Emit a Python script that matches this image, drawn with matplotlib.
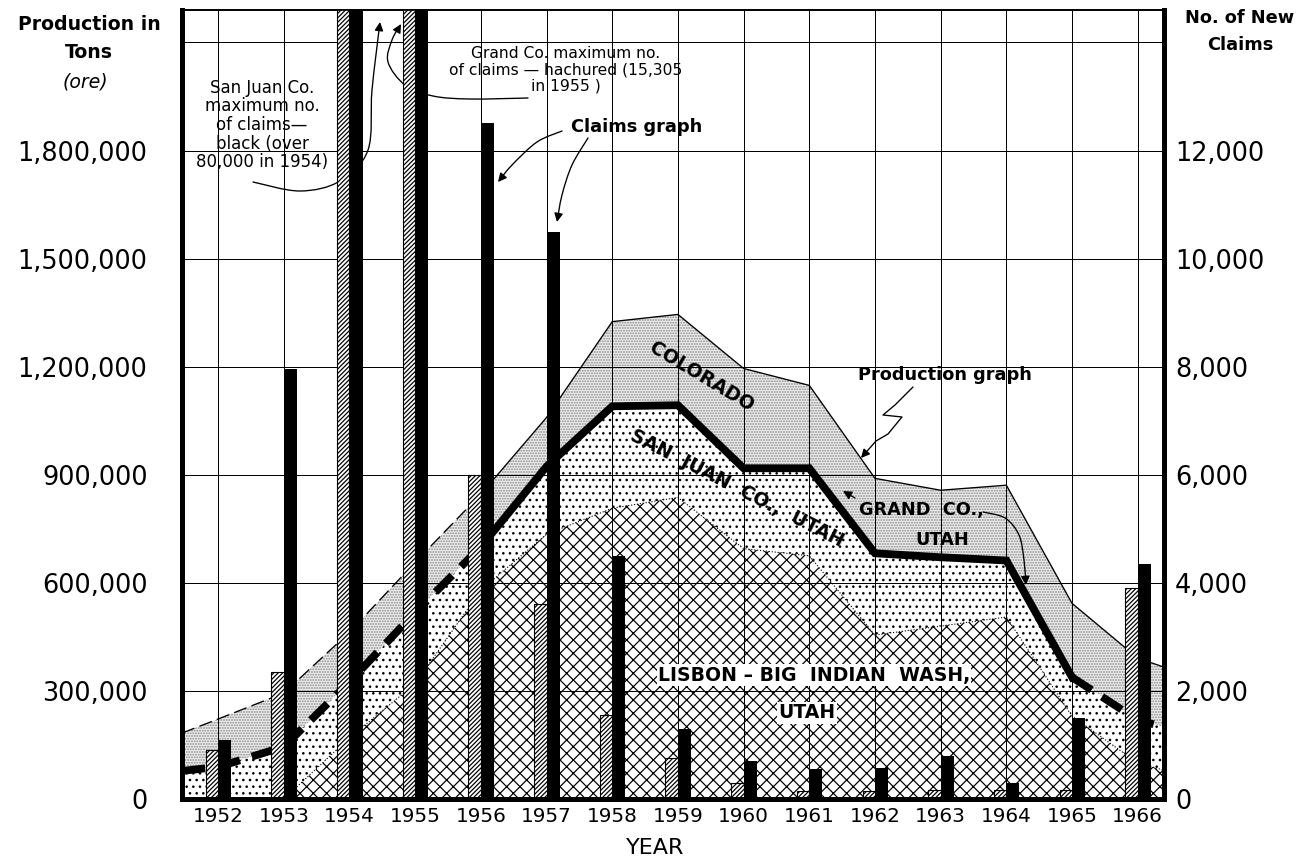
import numpy as np
import matplotlib
matplotlib.use('Agg')
import matplotlib.pyplot as plt
from matplotlib.path import Path
from matplotlib.patches import FancyArrowPatch

plt.rcParams['font.family'] = ['DejaVu Sans']
plt.rcParams['hatch.linewidth'] = 1.1

# values
years = [1952, 1953, 1954, 1955, 1956, 1957, 1958, 1959, 1960, 1961, 1962, 1963, 1964, 1965, 1966]
year_labels = [str(y) for y in years]

# production in tons (cumulative boundaries)
total_tons = [222000, 294000, 463000, 657000, 846000, 1059000, 1325000, 1345000,
              1195000, 1148000, 890000, 857000, 871000, 543000, 391000]
sanjuan_tons = [89000, 145000, 325000, 518000, 700000, 923000, 1090000, 1093000,
                918000, 918000, 682000, 671000, 662000, 338000, 219000]
lisbon_tons = [0, 0, 170000, 320000, 580000, 735000, 807000, 837000,
               695000, 675000, 455000, 480000, 505000, 230000, 100000]
# where the curves meet the left / right frame
edge_total = [183000, 366000]
edge_sanjuan = [78000, 200000]
edge_lisbon = [0, 80000]

# new claims
grand_claims = [900, 2350, 15000, 15305, 6000, 3600, 1550, 750, 300, 150, 150, 170, 170, 170, 3900]
sanjuan_claims = [1100, 7950, 80000, 40000, 12500, 10500, 4500, 1300, 700, 550, 575, 800, 300, 1500, 4350]

left_ticks = [0, 300000, 600000, 900000, 1200000, 1500000, 1800000]
left_labels = ['0', '300,000', '600,000', '900,000', '1,200,000', '1,500,000', '1,800,000']
right_ticks = [0, 2000, 4000, 6000, 8000, 10000, 12000]
right_labels = ['0', '2,000', '4,000', '6,000', '8,000', '10,000', '12,000']

W, H = 1310, 863
fig = plt.figure(figsize=(W / 80, H / 80), dpi=80)
ax = fig.add_axes([182 / W, 1 - 799 / H, (1164 - 182) / W, (799 - 10) / H])
ax2 = ax.twinx()

xlim = (1951.45, 1966.4)
ymax = 2190000
ax.set_xlim(*xlim)
ax.set_ylim(0, ymax)
ax2.set_ylim(0, ymax / 150)

xs = np.r_[xlim[0], years, xlim[1]]
tot = np.r_[edge_total[0], total_tons, edge_total[1]]
sj = np.r_[edge_sanjuan[0], sanjuan_tons, edge_sanjuan[1]]
lis = np.r_[edge_lisbon[0], lisbon_tons, edge_lisbon[1]]

# areas
ax.fill_between(xs, sj, tot, facecolor='#f0f0f0', edgecolor='#808080', hatch='.....', lw=0, zorder=1)
ax.fill_between(xs, lis, sj, facecolor='white', edgecolor='black', hatch='..', lw=0, zorder=1)
ax.fill_between(xs, 0, lis, facecolor='white', edgecolor='black', hatch='xx', lw=0, zorder=1)

# boundary lines
ax.plot(xs[:6], tot[:6], color='black', lw=1.2, dashes=(10, 4), zorder=3)
ax.plot(xs[5:], tot[5:], color='black', lw=1.2, zorder=3)
ax.plot(xs[:6], sj[:6], color='black', lw=7, dashes=(3, 1.6), zorder=3)
ax.plot(xs[5:15], sj[5:15], color='black', lw=7, zorder=3, solid_joinstyle='miter')
ax.plot(xs[14:], sj[14:], color='black', lw=7, dashes=(3, 1.6), zorder=3)
ax.plot(xs[2:], lis[2:], color='black', lw=1, ls=':', zorder=3)

# grid
ax.set_xticks(years)
ax.set_xticklabels(year_labels)
ax.set_yticks(left_ticks)
ax.set_yticklabels(left_labels)
ax.set_axisbelow(False)
ax.grid(True, color='black', lw=0.9)
ax.axhline(2100000, color='black', lw=0.9, zorder=2.5)

# claims bars
ax2.bar(years, grand_claims, width=-0.19, align='edge', facecolor='white',
        edgecolor='black', hatch='//////', lw=1, zorder=2)
ax2.bar(years, sanjuan_claims, width=0.2, align='edge', color='black', zorder=2)
ax2.set_yticks(right_ticks)
ax2.set_yticklabels(right_labels)

for a in (ax, ax2):
    for side in ('left', 'right', 'bottom'):
        a.spines[side].set_linewidth(4.5)
    a.spines['top'].set_linewidth(1.5)
ax.tick_params(axis='y', length=0, pad=31, labelsize=23)
ax.tick_params(axis='x', length=0, pad=7, labelsize=18)
ax2.tick_params(axis='y', length=0, pad=10, labelsize=23)


def fxy(px, py):
    return px / W, 1 - py / H


def curve(pts):
    pts = np.array([fxy(*p) for p in pts])
    verts = [pts[0]]
    codes = [Path.MOVETO]
    n = len(pts)
    for i in range(n - 1):
        p0 = pts[i - 1] if i > 0 else pts[i]
        p1, p2 = pts[i], pts[i + 1]
        p3 = pts[i + 2] if i + 2 < n else pts[i + 1]
        verts += [p1 + (p2 - p0) / 6, p2 - (p3 - p1) / 6, p2]
        codes += [Path.CURVE4] * 3
    return Path(verts, codes)


def arrow(pts, behind=False):
    a = FancyArrowPatch(path=curve(pts), arrowstyle='-|>', mutation_scale=16,
                        color='black', lw=1.2, shrinkA=0, shrinkB=0,
                        transform=fig.transFigure)
    if behind:
        a.set_zorder(1.5)
        ax2.add_patch(a)
    else:
        fig.add_artist(a)


# axis titles
fig.text(*fxy(89, 25), 'Production in', ha='center', va='center', fontsize=17, fontweight='bold')
fig.text(*fxy(89, 52), 'Tons', ha='center', va='center', fontsize=17, fontweight='bold')
fig.text(*fxy(85, 82), '(ore)', ha='center', va='center', fontsize=17, fontstyle='italic')
fig.text(*fxy(1240, 18), 'No. of New', ha='center', va='center', fontsize=16, fontweight='bold')
fig.text(*fxy(1240, 45), 'Claims', ha='center', va='center', fontsize=16, fontweight='bold')
fig.text(*fxy(655, 848), 'YEAR', ha='center', va='center', fontsize=20)

# notes
fig.text(*fxy(262, 125), 'San Juan Co.\nmaximum no.\nof claims—\nblack (over\n80,000 in 1954)',
         ha='center', va='center', fontsize=15, linespacing=1.05)
arrow([(253, 182), (300, 191), (340, 181), (368, 150), (372, 90), (380, 22)], behind=True)

fig.text(*fxy(566, 70), 'Grand Co. maximum no.\nof claims — hachured (15,305\nin 1955 )',
         ha='center', va='center', fontsize=14, linespacing=1.1)
arrow([(528, 98), (470, 99), (433, 96), (405, 85), (388, 62), (392, 40), (401, 24)], behind=True)

fig.text(*fxy(637, 127), 'Claims graph', ha='center', va='center', fontsize=16, fontweight='bold')
arrow([(562, 131), (537, 142), (512, 165), (498, 182)])
arrow([(588, 138), (572, 165), (562, 195), (557, 222)])

fig.text(*fxy(945, 375), 'Production graph', ha='center', va='center', fontsize=16, fontweight='bold')
zig = FancyArrowPatch(path=Path([fxy(913, 387), fxy(895, 405), fxy(883, 415), fxy(902, 417),
                                  fxy(888, 434), fxy(876, 441), fxy(861, 458)]),
                      arrowstyle='-|>', mutation_scale=16, color='black', lw=1.2,
                      shrinkA=0, shrinkB=0, transform=fig.transFigure)
fig.add_artist(zig)

# area labels
fig.text(*fxy(702, 377), 'COLORADO', ha='center', va='center', fontsize=17,
         fontweight='bold', rotation=-31)
fig.text(*fxy(737, 488), 'SAN  JUAN  CO.,  UTAH', ha='center', va='center', fontsize=17,
         fontweight='bold', rotation=-27)
fig.text(*fxy(921, 510), 'GRAND  CO.,', ha='center', va='center', fontsize=16, fontweight='bold')
fig.text(*fxy(942, 540), 'UTAH', ha='center', va='center', fontsize=16, fontweight='bold')
arrow([(855, 498), (843, 491)])
arrow([(983, 512), (1005, 518), (1019, 535), (1024, 560), (1026, 585)])
fig.text(*fxy(814, 675), 'LISBON – BIG  INDIAN  WASH,', ha='center', va='center', fontsize=17,
         fontweight='bold', bbox=dict(facecolor='white', edgecolor='none', pad=1))
fig.text(*fxy(807, 713), 'UTAH', ha='center', va='center', fontsize=17,
         fontweight='bold', bbox=dict(facecolor='white', edgecolor='none', pad=1))

fig.savefig('out.png', dpi=80, facecolor='white')
